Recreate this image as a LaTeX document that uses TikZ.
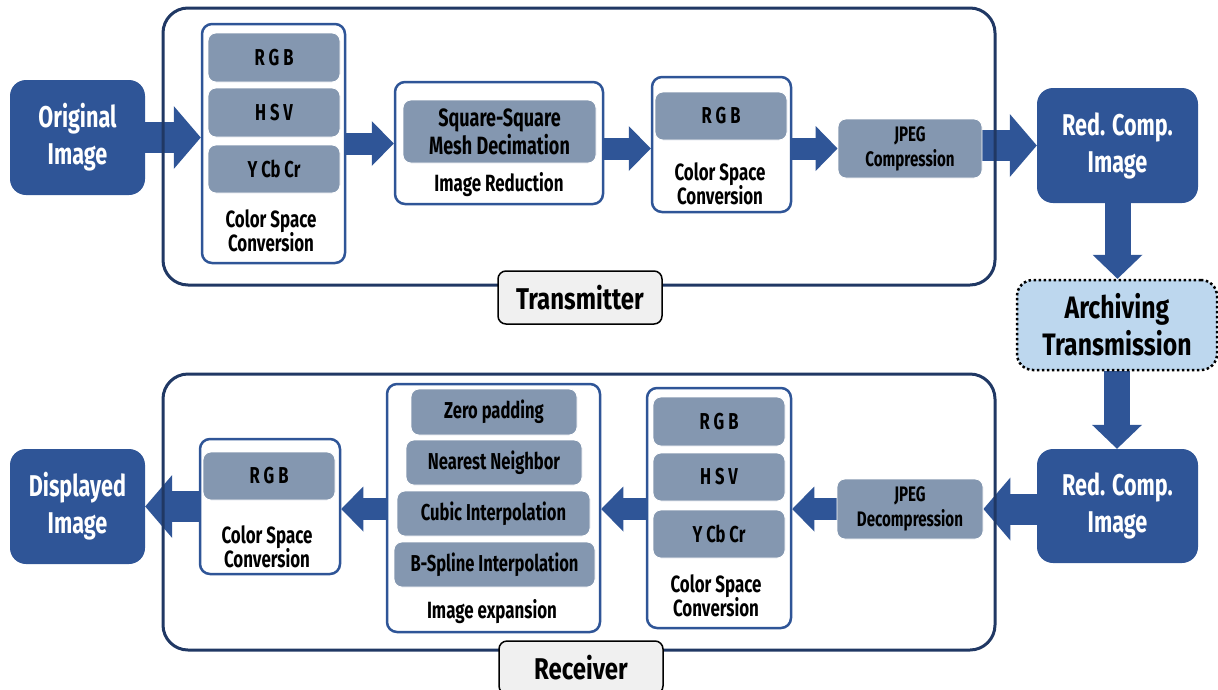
\documentclass[tikz,border=0pt]{standalone}
\usepackage{fontspec}
\setmainfont{Fira Sans}[FakeStretch=0.72]
\newfontfamily\heavyfont{Fira Sans}[FakeStretch=0.8]
\usetikzlibrary{arrows.meta}
\definecolor{navy}{HTML}{203864}
\definecolor{mblue}{HTML}{2F5597}
\definecolor{gblue}{HTML}{8497B0}
\definecolor{lblue}{HTML}{BDD7EE}
\definecolor{lgray}{HTML}{F0F0F0}
\pgfdeclarelayer{arr}
\pgfdeclarelayer{frame}
\pgfsetlayers{arr,frame,main}
\newcommand\bigfont{\fontsize{30}{37}\selectfont\bfseries\lineskiplimit=-100pt\relax}
\newcommand\smallfont{\fontsize{23}{23}\selectfont\bfseries}
\newcommand\capfont{\fontsize{23.5}{23.5}\selectfont\bfseries\lineskiplimit=-100pt\relax}
\newcommand\jfont{\fontsize{21}{25}\selectfont\bfseries\lineskiplimit=-100pt\relax}
\newcommand\sqfont{\fontsize{25}{28}\selectfont\bfseries\lineskiplimit=-100pt\relax}
\tikzset{
  bigbox/.style={draw=navy, line width=3pt, rounded corners=25pt},
  cont/.style={draw=mblue, line width=2.5pt, fill=white, rounded corners=10pt, inner sep=0pt},
  inbox/.style={fill=gblue, draw=white, line width=0.8pt, rounded corners=8pt, inner sep=0pt, font=\smallfont, align=center, text=black},
  dark/.style={fill=mblue, rounded corners=16pt, text=white, font=\bigfont, align=center, inner sep=0pt},
  captxt/.style={font=\capfont, align=center, text=black, inner sep=0pt},
  lab/.style={draw=black, fill=lgray, line width=1.5pt, rounded corners=8pt, font=\heavyfont\fontsize{30}{30}\selectfont\bfseries, inner sep=0pt, minimum width=164pt, minimum height=53pt},
  barrow/.style={draw=mblue, line width=31pt, -{Triangle[width=63pt,length=27pt,line width=0pt]}},
  sarrow/.style={draw=mblue, line width=22pt, -{Triangle[width=45pt,length=22pt,line width=0pt]}},
  darrow/.style={draw=mblue, line width=26pt, -{Triangle[width=50pt,length=24pt,line width=0pt]}},
}
\begin{document}
\begin{tikzpicture}[x=1pt,y=-1pt]
\useasboundingbox (0,0) rectangle (1218,689);
% ---------- dark blocks ----------
\node[dark, minimum width=135pt, minimum height=115pt] (orig) at (77.5,137.5) {Original\\Image};
\node[dark, minimum width=161pt, minimum height=115pt] (rc1) at (1117.5,145.5) {Red. Comp.\\Image};
\node[dark, minimum width=161pt, minimum height=114pt] (rc2) at (1117.5,506) {Red. Comp.\\Image};
\node[dark, minimum width=135pt, minimum height=115pt] (disp) at (77.5,506.5) {Displayed\\Image};
\node[draw=black, line width=2.5pt, dash pattern=on 2.5pt off 2.5pt, fill=lblue, rounded corners=16pt, minimum width=200pt, minimum height=90pt, inner sep=0pt, align=center, font=\heavyfont\fontsize{31}{37}\selectfont\bfseries] (at) at (1117,325) {Archiving\\Transmission};
% ---------- transmitter ----------
\node[cont, minimum width=143pt, minimum height=239pt] (cs1) at (273.5,143.5) {};
\node[inbox, minimum width=132pt, minimum height=49pt] (rgb1) at (274,57.5) {R G B};
\node[inbox, minimum width=132pt, minimum height=49pt] (hsv1) at (274,112.5) {H S V};
\node[inbox, minimum width=132pt, minimum height=48pt] (ycc1) at (274,169) {Y Cb Cr};
\node[captxt] (t1) at (271,231) {Color Space\\Conversion};
\node[cont, minimum width=208pt, minimum height=122pt] (ir) at (499,143) {};
\node[inbox, minimum width=193pt, minimum height=63pt, font=\sqfont] (sq) at (499.5,131.5) {Square-Square\\Mesh Decimation};
\node[captxt] (t2) at (499,185) {Image Reduction};
\node[cont, minimum width=139pt, minimum height=135pt] (cs2) at (721.5,144.5) {};
\node[inbox, minimum width=132pt, minimum height=48pt] (rgb2) at (721,116) {R G B};
\node[captxt] (t3) at (720,184) {Color Space\\Conversion};
\node[inbox, minimum width=144pt, minimum height=59pt, font=\jfont] (jpeg) at (910,148.5) {JPEG\\Compression};
% ---------- receiver ----------
\node[inbox, minimum width=146pt, minimum height=60pt, font=\jfont] (jdec) at (910,509) {JPEG\\Decompression};
\node[cont, minimum width=144pt, minimum height=240pt] (cs3) at (719,508) {};
\node[inbox, minimum width=132pt, minimum height=49pt] (rgb3) at (719,421.5) {R G B};
\node[inbox, minimum width=132pt, minimum height=48pt] (hsv3) at (719,477) {H S V};
\node[inbox, minimum width=132pt, minimum height=48pt] (ycc3) at (719,534) {Y Cb Cr};
\node[captxt] (t4) at (716,596) {Color Space\\Conversion};
\node[cont, minimum width=213pt, minimum height=248pt] (ie) at (493.5,508) {};
\node[inbox, minimum width=166pt, minimum height=46pt] (zp) at (494,412) {Zero padding};
\node[inbox, minimum width=176pt, minimum height=45pt] (nn) at (494,462.5) {Nearest Neighbor};
\node[inbox, minimum width=193pt, minimum height=45pt] (ci) at (493.5,513.5) {Cubic Interpolation};
\node[inbox, minimum width=201pt, minimum height=45pt] (bs) at (494.5,564.5) {B-Spline Interpolation};
\node[captxt] (t5) at (492,612) {Image expansion};
\node[cont, minimum width=140pt, minimum height=135pt] (cs4) at (270,506.5) {};
\node[inbox, minimum width=132pt, minimum height=48pt] (rgb4) at (269,476) {R G B};
\node[captxt] (t6) at (267,547) {Color Space\\Conversion};
% ---------- frames ----------
\begin{pgfonlayer}{frame}
\draw[bigbox] (163,8) rectangle (995,285);
\draw[bigbox] (163,374) rectangle (995,650);
\end{pgfonlayer}
\node[lab] (tx) at (580,297.5) {Transmitter};
\node[lab] (rx) at (581,667.5) {Receiver};
% ---------- arrows ----------
\begin{pgfonlayer}{arr}
\draw[barrow] (orig.east) -- (orig.east -| cs1.west);
\draw[sarrow] (cs1.east) -- (cs1.east -| ir.west);
\draw[sarrow] (ir.east |- jpeg) -- (cs2.west |- jpeg);
\draw[sarrow] (cs2.east |- jpeg) -- (jpeg.west);
\draw[barrow] (jpeg.east |- rc1) -- (rc1.west);
\draw[darrow] (rc1.south) -- (rc1.south |- at.north);
\draw[darrow] (at.south) -- (at.south |- rc2.north);
\draw[barrow] (rc2.west |- jdec) -- (jdec.east);
\draw[sarrow] (jdec.west) -- (jdec.west -| cs3.east);
\draw[sarrow] (cs3.west |- jdec) -- (ie.east |- jdec);
\draw[sarrow] (ie.west |- jdec) -- (cs4.east |- jdec);
\draw[barrow] (cs4.west) -- (cs4.west -| disp.east);
\end{pgfonlayer}
\end{tikzpicture}
\end{document}
